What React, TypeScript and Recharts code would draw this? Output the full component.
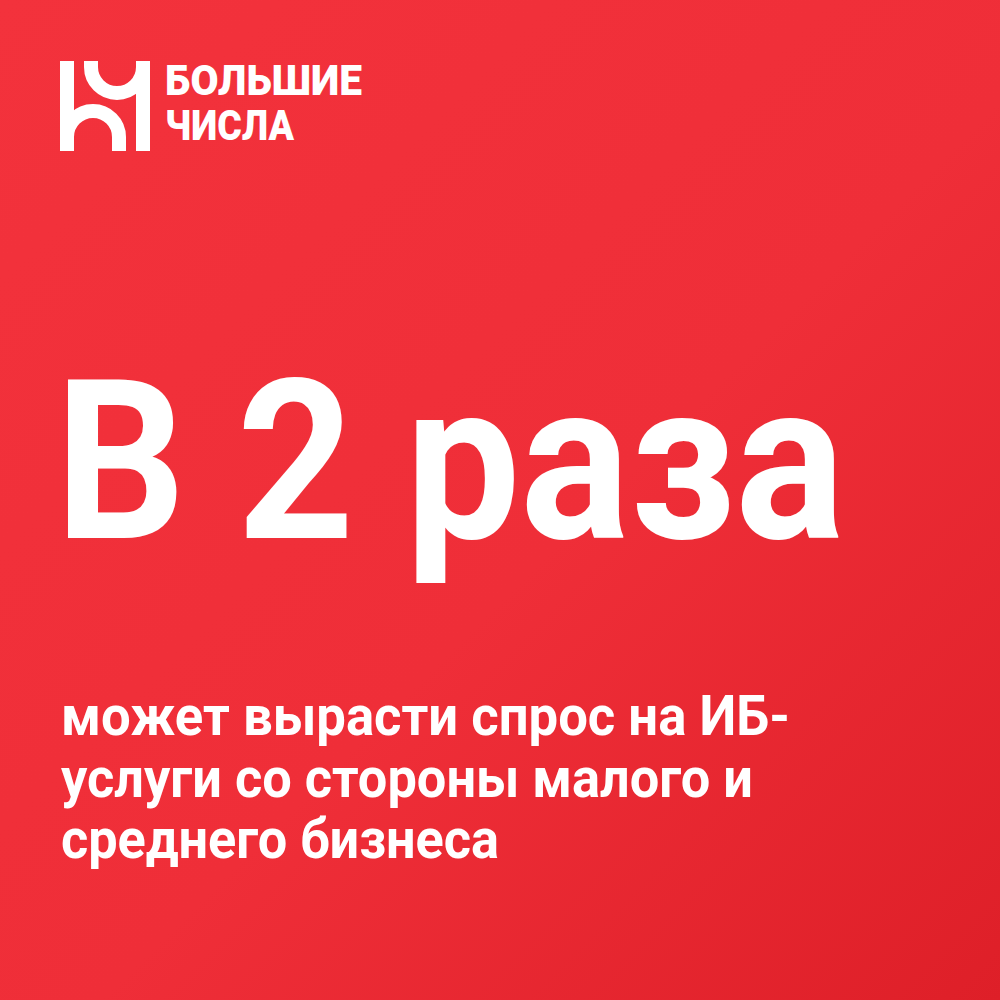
import React from "react";
import { ComposedChart, Customized } from "recharts";

// подписи карточки
const logoLines = ["БОЛЬШИЕ", "ЧИСЛА"];
const logoLengths = [197, 129];
const headline = "В 2 раза";
const subtitleLines = [
  "может вырасти спрос на ИБ-",
  "услуги со стороны малого и",
  "среднего бизнеса",
];
const subtitleLengths = [729, 692, 438];

const W = 1000;
const H = 1000;

const Card = () => (
  <g>
    <defs>
      <linearGradient id="bg" x1="0" y1="0" x2="1" y2="1">
        <stop offset="0" stopColor="#F3323C" />
        <stop offset="0.55" stopColor="#EF2E38" />
        <stop offset="1" stopColor="#DE1F28" />
      </linearGradient>
    </defs>
    <rect x={0} y={0} width={W} height={H} fill="url(#bg)" />

    {/* логотип */}
    <g fill="none" stroke="#fff" strokeWidth={14}>
      <line x1={67} y1={61} x2={67} y2={151} />
      <line x1={143} y1={61} x2={143} y2={151} />
      <path d="M91 61 V67 A26 26 0 0 0 143 67" />
      <path d="M67 137 A26 26 0 0 1 119 137 V151" />
    </g>
    {logoLines.map((t, i) => (
      <text
        key={t}
        x={165}
        y={95 + i * 45}
        fill="#fff"
        fontFamily="Roboto"
        fontWeight={900}
        fontSize={42}
        textLength={logoLengths[i]}
        lengthAdjust="spacingAndGlyphs"
      >
        {t}
      </text>
    ))}

    <text
      x={55}
      y={538}
      fill="#fff"
      fontFamily="Roboto"
      fontWeight={700}
      fontSize={222}
      textLength={790}
      lengthAdjust="spacingAndGlyphs"
    >
      {headline}
    </text>

    {subtitleLines.map((t, i) => (
      <text
        key={t}
        x={61}
        y={735 + i * 61.5}
        fill="#fff"
        fontFamily="Roboto"
        fontWeight={700}
        fontSize={56}
        textLength={subtitleLengths[i]}
        lengthAdjust="spacingAndGlyphs"
      >
        {t}
      </text>
    ))}
  </g>
);

export default function App() {
  return (
    <div style={{ position: "absolute", left: 0, top: 0 }}>
      <ComposedChart width={W} height={H} data={[]} margin={{ top: 0, right: 0, bottom: 0, left: 0 }}>
        <Customized component={Card} />
      </ComposedChart>
    </div>
  );
}
